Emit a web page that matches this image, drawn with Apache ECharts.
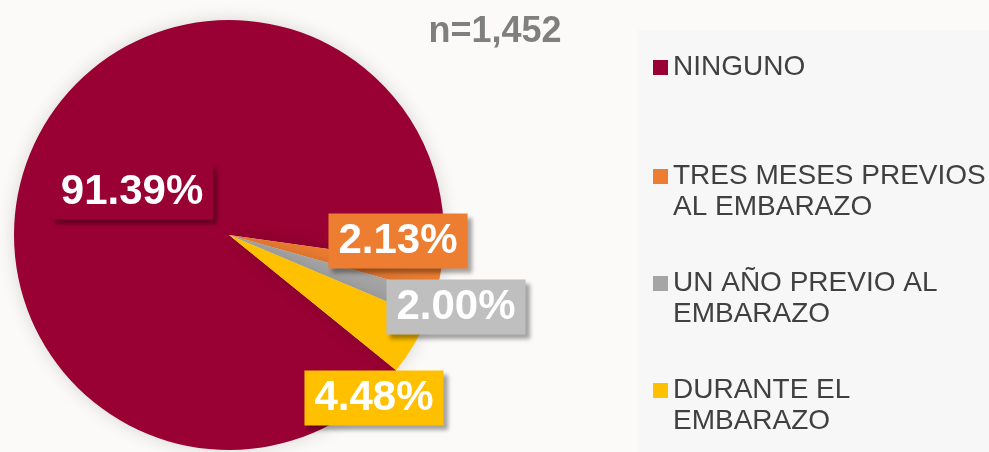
<!DOCTYPE html>
<html>
<head>
<meta charset="utf-8">
<script src="https://cdn.jsdelivr.net/npm/echarts@6/dist/echarts.min.js"></script>
<style>
html,body{margin:0;padding:0;background:#fbfaf8;}
#c{width:989px;height:452px;}
</style>
</head>
<body>
<div id="c"></div>
<script>
// Data
var categories = ['NINGUNO', 'TRES MESES PREVIOS\nAL EMBARAZO', 'UN AÑO PREVIO AL\nEMBARAZO', 'DURANTE EL\nEMBARAZO'];
var values = [91.39, 2.13, 2.00, 4.48];
var sampleTitle = 'n=1,452';

// Styles
var sliceColors = ['#990033', '#ED7D31', '#A5A5A5', '#FFC000'];
var labelBoxColors = ['#990033', '#ED7D31', '#BFBFBF', '#FFC000'];
var labelCenters = [[132, 192], [398, 241], [456, 307], [374, 398]];
var legendTops = [52, 130, 237, 344];
var FONT = '"Liberation Sans", Arial, sans-serif';

var chart = echarts.init(document.getElementById('c'), null, {renderer: 'canvas'});

var pieData = categories.map(function (name, i) {
  return {
    name: name,
    value: values[i],
    itemStyle: {color: sliceColors[i]},
    label: {backgroundColor: labelBoxColors[i]}
  };
});

var legends = categories.map(function (name, i) {
  return {
    show: true,
    orient: 'vertical',
    left: 653,
    top: legendTops[i],
    padding: 0,
    data: [name],
    icon: 'rect',
    itemWidth: 15,
    itemHeight: 15,
    selectedMode: false,
    formatter: function (n) {
      // multi-line entries: first line aligned with the icon
      return n.indexOf('\n') >= 0 ? '\n' + n : n;
    },
    textStyle: {
      fontFamily: FONT,
      fontSize: 28,
      lineHeight: 31,
      color: '#404040'
    }
  };
});

chart.setOption({
  backgroundColor: '#fbfaf8',
  animation: false,
  title: {
    text: sampleTitle,
    left: 490,
    top: 9,
    textAlign: 'center',
    textStyle: {fontFamily: FONT, fontSize: 36, fontWeight: 'bold', color: '#7F7F7F'}
  },
  graphic: [{
    type: 'rect',
    z: -1,
    shape: {x: 638, y: 30, width: 351, height: 422},
    style: {fill: '#F7F7F7'}
  }],
  legend: legends,
  series: [{
    type: 'pie',
    center: [229, 235],
    radius: 215,
    startAngle: -39,
    clockwise: true,
    itemStyle: {shadowBlur: 18, shadowColor: 'rgba(0,0,0,0.14)'},
    label: {
      show: true,
      position: 'inside',
      formatter: function (p) { return p.value.toFixed(2) + '%'; },
      fontFamily: FONT,
      fontSize: 42,
      fontWeight: 'bold',
      color: '#fff',
      lineHeight: 47,
      padding: [4, 10, 4, 10],
      shadowColor: 'rgba(0,0,0,0.35)',
      shadowBlur: 4,
      shadowOffsetX: 4,
      shadowOffsetY: 4
    },
    labelLine: {show: false},
    labelLayout: function (p) {
      var c = labelCenters[p.dataIndex];
      return {x: c[0], y: c[1], align: 'center', verticalAlign: 'middle'};
    },
    emphasis: {disabled: true},
    data: pieData
  }]
});
</script>
</body>
</html>
